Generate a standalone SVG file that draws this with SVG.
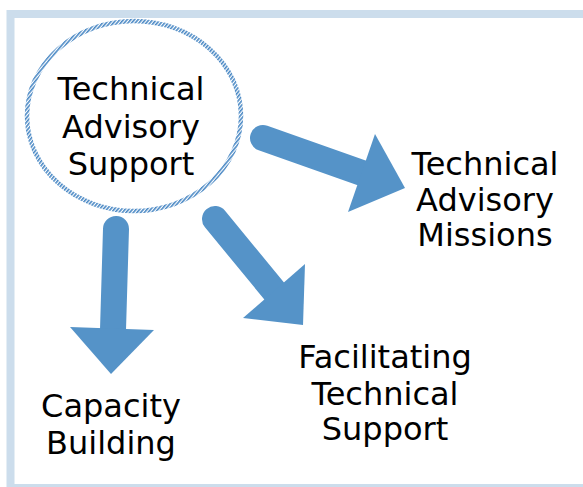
<svg xmlns="http://www.w3.org/2000/svg" width="583" height="487" viewBox="0 0 583 487">
  <style>
    .lbl { font-family: "DejaVu Sans", "Liberation Sans", sans-serif; font-size: 32px; fill: #000; text-anchor: middle; }
    .shaft { stroke: #5593C8; stroke-width: 26; stroke-linecap: round; fill: none; }
    .head { fill: #5593C8; }
  </style>
  <defs>
    <pattern id="hatch" patternUnits="userSpaceOnUse" width="2.8" height="2.8" patternTransform="rotate(40)">
      <rect x="0" y="0" width="1.6" height="2.8" fill="#4A88C4"/>
    </pattern>
  </defs>
  <rect x="0" y="0" width="583" height="487" fill="#FFFFFF"/>
  <rect x="10.5" y="14" width="620" height="474" fill="none" stroke="#CCDDEC" stroke-width="8"/>

  <g id="connectors">
    <g id="arrow-capacity">
      <line class="shaft" x1="116" y1="229" x2="113" y2="330"/>
      <polygon class="head" points="70,327 154,330 111,374"/>
    </g>
    <g id="arrow-facilitating">
      <line class="shaft" x1="215" y1="219" x2="275" y2="292"/>
      <polygon class="head" points="305,264 243,318 303,325"/>
    </g>
    <g id="arrow-missions">
      <line class="shaft" x1="263" y1="138" x2="362" y2="173"/>
      <polygon class="head" points="375,134 348,212 405,188"/>
    </g>
  </g>

  <g id="node-technical-advisory-support">
    <ellipse cx="134" cy="116" rx="107" ry="95" fill="none" stroke="url(#hatch)" stroke-width="4.5"/>
    <text class="lbl" x="131" y="100">Technical</text>
    <text class="lbl" x="131" y="138">Advisory</text>
    <text class="lbl" x="131" y="175">Support</text>
  </g>

  <g id="node-technical-advisory-missions">
    <text class="lbl" x="485" y="175">Technical</text>
    <text class="lbl" x="485" y="211">Advisory</text>
    <text class="lbl" x="485" y="246">Missions</text>
  </g>

  <g id="node-facilitating-technical-support">
    <text class="lbl" x="385" y="368">Facilitating</text>
    <text class="lbl" x="385" y="405">Technical</text>
    <text class="lbl" x="385" y="440">Support</text>
  </g>

  <g id="node-capacity-building">
    <text class="lbl" x="111" y="417">Capacity</text>
    <text class="lbl" x="111" y="454">Building</text>
  </g>
</svg>
